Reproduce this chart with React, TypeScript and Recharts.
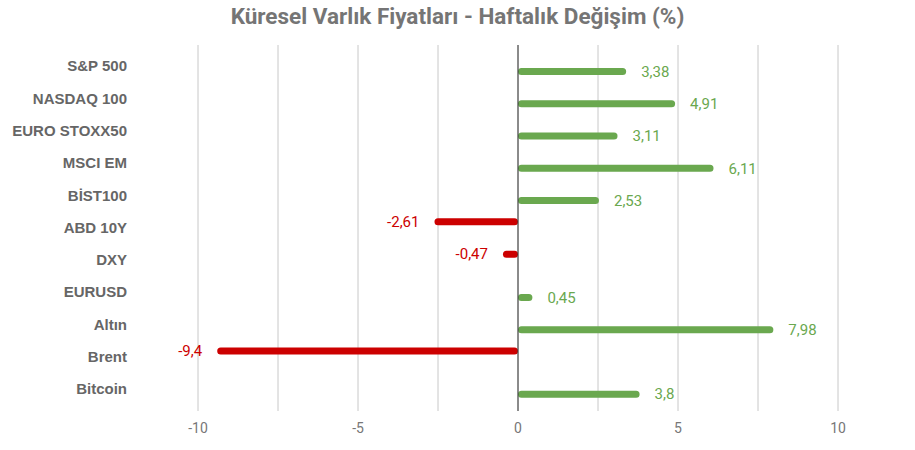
import React from "react";
import {
  BarChart,
  Bar,
  XAxis,
  YAxis,
  CartesianGrid,
  ReferenceLine,
  LabelList,
} from "recharts";

const categories = [
  "S&P 500",
  "NASDAQ 100",
  "EURO STOXX50",
  "MSCI EM",
  "BİST100",
  "ABD 10Y",
  "DXY",
  "EURUSD",
  "Altın",
  "Brent",
  "Bitcoin",
];
const changes = [3.38, 4.91, 3.11, 6.11, 2.53, -2.61, -0.47, 0.45, 7.98, -9.4, 3.8];
const xTicks = [-10, -7.5, -5, -2.5, 0, 2.5, 5, 7.5, 10];

const GREEN = "#6aa84f";
const RED = "#cc0000";

const data = categories.map((name, i) => ({
  name,
  neg: changes[i] < 0 ? changes[i] : null,
  pos: changes[i] >= 0 ? changes[i] : null,
}));

const fmt = (v: any) => (v == null ? "" : String(v).replace(".", ","));

// value label at the bar's outer end, on whichever side it points
const makeLabel = (color: string) => (props: any) => {
  const { x, y, width, height, value } = props;
  if (value == null) return null;
  const end = Number(x) + Number(width);
  const neg = Number(value) < 0;
  return (
    <text
      x={neg ? end - 15 : end + 15}
      y={Number(y) + Number(height) / 2}
      dy="0.35em"
      textAnchor={neg ? "end" : "start"}
      fill={color}
      fontSize={15}
      fontFamily="Roboto"
    >
      {fmt(value)}
    </text>
  );
};

export default function App() {
  return (
    <div
      style={{
        position: "absolute",
        left: 0,
        top: 0,
        width: 915,
        height: 450,
        background: "#fff",
        fontFamily: "Roboto, sans-serif",
      }}
    >
      <div
        style={{
          position: "absolute",
          top: 3,
          width: 915,
          textAlign: "center",
          fontSize: 22.5,
          fontWeight: 700,
          color: "#757575",
        }}
      >
        Küresel Varlık Fiyatları - Haftalık Değişim (%)
      </div>
      <BarChart
        width={915}
        height={450}
        data={data}
        layout="vertical"
        margin={{ top: 45, right: 77, left: 8, bottom: 9 }}
        barSize={7}
        barGap={4}
      >
        <CartesianGrid horizontal={false} stroke="#c8c8c8" />
        <XAxis
          type="number"
          domain={[-10, 10]}
          ticks={xTicks}
          tickFormatter={(v) => (v % 5 === 0 ? String(v) : "")}
          axisLine={false}
          tickLine={false}
          height={30}
          tickMargin={6}
          tick={{ fill: "#777", fontSize: 14, fontFamily: "Roboto" }}
        />
        <YAxis
          type="category"
          dataKey="name"
          width={190}
          padding={{ top: 5, bottom: 6 }}
          axisLine={false}
          tickLine={false}
          tickSize={0}
          tickMargin={71}
          tick={{
            fill: "#666",
            fontSize: 15,
            fontWeight: 700,
            fontFamily: "Liberation Sans, Arial, sans-serif",
          }}
        />
        <Bar dataKey="neg" fill={RED} radius={3.5} isAnimationActive={false}>
          <LabelList dataKey="neg" content={makeLabel(RED)} />
        </Bar>
        <Bar dataKey="pos" fill={GREEN} radius={3.5} isAnimationActive={false}>
          <LabelList dataKey="pos" content={makeLabel(GREEN)} />
        </Bar>
        <ReferenceLine x={0} stroke="#333" strokeWidth={1} />
      </BarChart>
    </div>
  );
}
